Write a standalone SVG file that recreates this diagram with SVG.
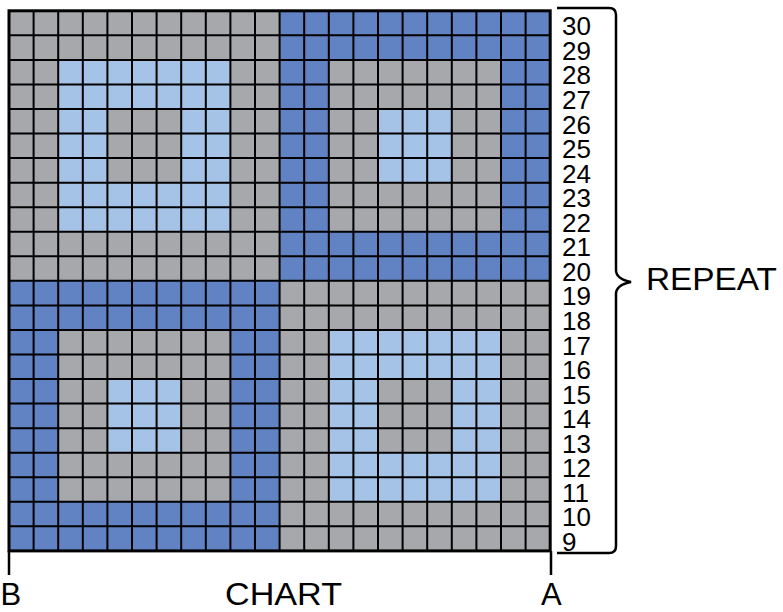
<svg xmlns="http://www.w3.org/2000/svg" width="783" height="612" viewBox="0 0 783 612">
<style>
.g{fill:#A7A8AC}.d{fill:#6283C3}.l{fill:#A5C3E7}
.t{font-family:"Liberation Sans",Arial,sans-serif;fill:#000}
.n{font-size:26px}
.big{font-size:31px}
.ln{stroke:#000;fill:none}
</style>
<rect width="783" height="612" fill="#fff"/>
<g id="chart">
<rect class="g" x="9" y="10.8" width="541.2" height="540.1"/>
<rect class="l" x="58.2" y="59.9" width="172.2" height="171.85"/>
<rect class="g" x="107.4" y="109" width="73.8" height="73.65"/>
<rect class="d" x="279.6" y="10.8" width="270.6" height="270.05"/>
<rect class="g" x="328.8" y="59.9" width="172.2" height="171.85"/>
<rect class="l" x="378" y="109" width="73.8" height="73.65"/>
<rect class="d" x="9" y="280.85" width="270.6" height="270.05"/>
<rect class="g" x="58.2" y="329.95" width="172.2" height="171.85"/>
<rect class="l" x="107.4" y="379.05" width="73.8" height="73.65"/>
<rect class="l" x="328.8" y="329.95" width="172.2" height="171.85"/>
<rect class="g" x="378" y="379.05" width="73.8" height="73.65"/>
<path class="ln" stroke-width="2" d="M33.6 10.8V550.9M58.2 10.8V550.9M82.8 10.8V550.9M107.4 10.8V550.9M132 10.8V550.9M156.6 10.8V550.9M181.2 10.8V550.9M205.8 10.8V550.9M230.4 10.8V550.9M255 10.8V550.9M279.6 10.8V550.9M304.2 10.8V550.9M328.8 10.8V550.9M353.4 10.8V550.9M378 10.8V550.9M402.6 10.8V550.9M427.2 10.8V550.9M451.8 10.8V550.9M476.4 10.8V550.9M501 10.8V550.9M525.6 10.8V550.9M9 35.35H550.2M9 59.9H550.2M9 84.45H550.2M9 109H550.2M9 133.55H550.2M9 158.1H550.2M9 182.65H550.2M9 207.2H550.2M9 231.75H550.2M9 256.3H550.2M9 280.85H550.2M9 305.4H550.2M9 329.95H550.2M9 354.5H550.2M9 379.05H550.2M9 403.6H550.2M9 428.15H550.2M9 452.7H550.2M9 477.25H550.2M9 501.8H550.2M9 526.35H550.2"/>
<rect class="ln" stroke-width="3" x="9" y="10.8" width="541.2" height="540.1"/>
</g>
<g id="row-numbers" class="t n">
<text x="562" y="35.35">30</text>
<text x="562" y="59.9">29</text>
<text x="562" y="84.45">28</text>
<text x="562" y="109">27</text>
<text x="562" y="133.55">26</text>
<text x="562" y="158.1">25</text>
<text x="562" y="182.65">24</text>
<text x="562" y="207.2">23</text>
<text x="562" y="231.75">22</text>
<text x="562" y="256.3">21</text>
<text x="562" y="280.85">20</text>
<text x="562" y="305.4">19</text>
<text x="562" y="329.95">18</text>
<text x="562" y="354.5">17</text>
<text x="562" y="379.05">16</text>
<text x="562" y="403.6">15</text>
<text x="562" y="428.15">14</text>
<text x="562" y="452.7">13</text>
<text x="562" y="477.25">12</text>
<text x="562" y="501.8">11</text>
<text x="562" y="526.35">10</text>
<text x="562" y="550.9">9</text>
</g>
<g id="bracket">
<path class="ln" stroke-width="2.5" d="M557 8H609Q616 8 616 15V270Q616 279 631 282Q616 285 616 294V546Q616 553 609 553H557"/>
<text class="t big" x="646" y="290" textLength="131" lengthAdjust="spacingAndGlyphs">REPEAT</text>
</g>
<g id="markers">
<path class="ln" stroke-width="2.5" d="M9 551V575M551 551V575"/>
<text class="t big" x="0.5" y="605">B</text>
<text class="t big" x="225" y="605" textLength="117" lengthAdjust="spacingAndGlyphs">CHART</text>
<text class="t big" x="541" y="605">A</text>
</g>
</svg>
